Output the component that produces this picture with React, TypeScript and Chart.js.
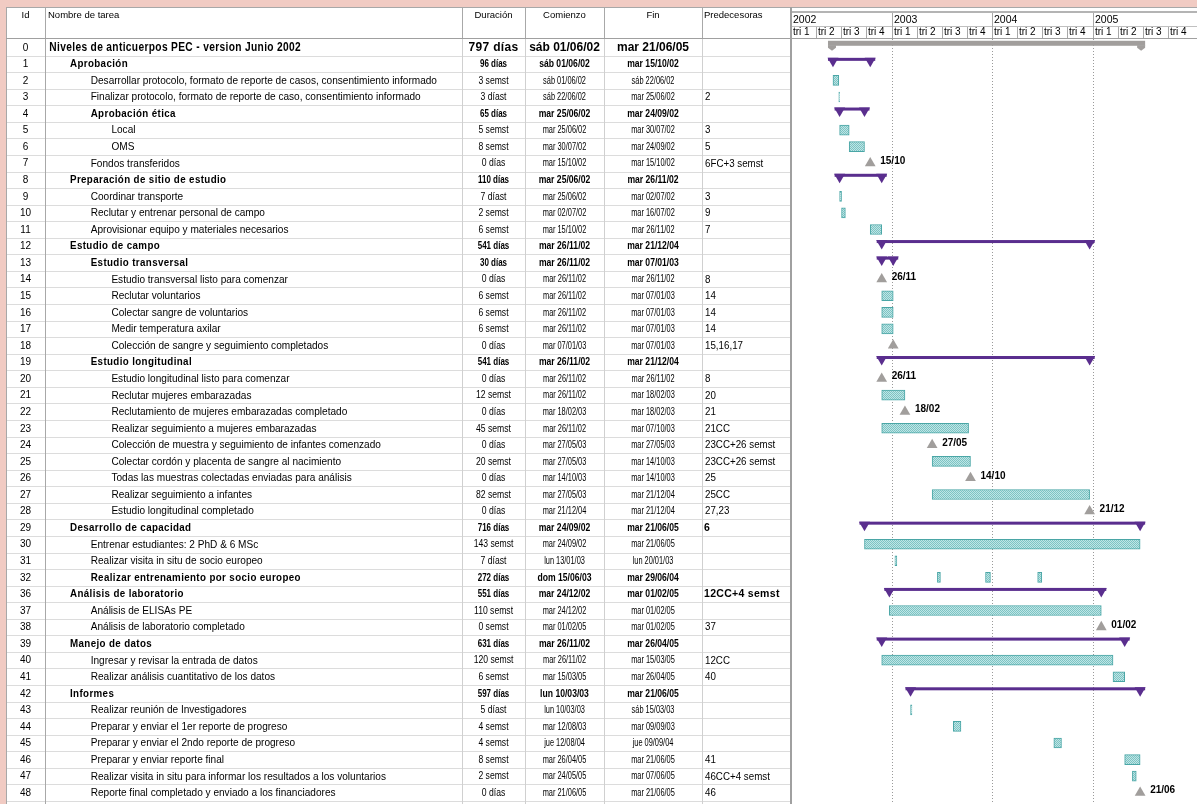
import React, { useEffect, useRef } from 'react';
import { Chart, registerables } from 'chart.js';
Chart.register(...registerables);

// ---------------- data ----------------
const ids = ['0','1','2','3','4','5','6','7','8','9','10','11','12','13','14','15','16','17','18','19','20','21','22','23','24','25','26','27','28','29','30','31','32','36','37','38','39','40','41','42','43','44','45','46','47','48'];

const names = [
  'Niveles de anticuerpos PEC - version Junio 2002',
  'Aprobación',
  'Desarrollar protocolo, formato de reporte de casos, consentimiento informado',
  'Finalizar protocolo, formato de reporte de caso, consentimiento informado',
  'Aprobación ética',
  'Local',
  'OMS',
  'Fondos transferidos',
  'Preparación de sitio de estudio',
  'Coordinar transporte',
  'Reclutar y entrenar personal de campo',
  'Aprovisionar equipo y materiales necesarios',
  'Estudio de campo',
  'Estudio transversal',
  'Estudio transversal listo para comenzar',
  'Reclutar voluntarios',
  'Colectar sangre de voluntarios',
  'Medir temperatura axilar',
  'Colección de sangre y seguimiento completados',
  'Estudio longitudinal',
  'Estudio longitudinal listo para comenzar',
  'Reclutar mujeres embarazadas',
  'Reclutamiento de mujeres embarazadas completado',
  'Realizar seguimiento a mujeres embarazadas',
  'Colección de muestra y seguimiento de infantes comenzado',
  'Colectar cordón y placenta de sangre al nacimiento',
  'Todas las muestras colectadas enviadas para análisis',
  'Realizar seguimiento a infantes',
  'Estudio longitudinal completado',
  'Desarrollo de capacidad',
  'Entrenar estudiantes: 2 PhD & 6 MSc',
  'Realizar visita in situ de socio europeo',
  'Realizar entrenamiento por socio europeo',
  'Análisis de laboratorio',
  'Análisis de ELISAs PE',
  'Análisis de laboratorio completado',
  'Manejo de datos',
  'Ingresar y revisar la entrada de datos',
  'Realizar análisis cuantitativo de los datos',
  'Informes',
  'Realizar reunión de Investigadores',
  'Preparar y enviar el 1er reporte de progreso',
  'Preparar y enviar el 2ndo reporte de progreso',
  'Preparar y enviar reporte final',
  'Realizar visita in situ para informar los resultados a los voluntarios',
  'Reporte final completado y enviado a los financiadores',
];

const levels = [0,1,2,2,2,3,3,2,1,2,2,2,1,2,3,3,3,3,3,2,3,3,3,3,3,3,3,3,3,1,2,2,2,1,2,2,1,2,2,1,2,2,2,2,2,2];

// root = project summary, sum = summary task, roll = summary with rolled-up bars, task, ms = milestone
const kinds = ['root','sum','task','task','sum','task','task','ms','sum','task','task','task','sum','sum','ms','task','task','task','ms','sum','ms','task','ms','task','ms','task','ms','task','ms','sum','task','task','roll','sum','task','ms','sum','task','task','sum','task','task','task','task','task','ms'];

const durations = ['797 días','96 días','3 semst','3 díast','65 días','5 semst','8 semst','0 días','110 días','7 díast','2 semst','6 semst','541 días','30 días','0 días','6 semst','6 semst','6 semst','0 días','541 días','0 días','12 semst','0 días','45 semst','0 días','20 semst','0 días','82 semst','0 días','716 días','143 semst','7 díast','272 días','551 días','110 semst','0 semst','631 días','120 semst','6 semst','597 días','5 díast','4 semst','4 semst','8 semst','2 semst','0 días'];

const starts = ['sáb 01/06/02','sáb 01/06/02','sáb 01/06/02','sáb 22/06/02','mar 25/06/02','mar 25/06/02','mar 30/07/02','mar 15/10/02','mar 25/06/02','mar 25/06/02','mar 02/07/02','mar 15/10/02','mar 26/11/02','mar 26/11/02','mar 26/11/02','mar 26/11/02','mar 26/11/02','mar 26/11/02','mar 07/01/03','mar 26/11/02','mar 26/11/02','mar 26/11/02','mar 18/02/03','mar 26/11/02','mar 27/05/03','mar 27/05/03','mar 14/10/03','mar 27/05/03','mar 21/12/04','mar 24/09/02','mar 24/09/02','lun 13/01/03','dom 15/06/03','mar 24/12/02','mar 24/12/02','mar 01/02/05','mar 26/11/02','mar 26/11/02','mar 15/03/05','lun 10/03/03','lun 10/03/03','mar 12/08/03','jue 12/08/04','mar 26/04/05','mar 24/05/05','mar 21/06/05'];

const ends = ['mar 21/06/05','mar 15/10/02','sáb 22/06/02','mar 25/06/02','mar 24/09/02','mar 30/07/02','mar 24/09/02','mar 15/10/02','mar 26/11/02','mar 02/07/02','mar 16/07/02','mar 26/11/02','mar 21/12/04','mar 07/01/03','mar 26/11/02','mar 07/01/03','mar 07/01/03','mar 07/01/03','mar 07/01/03','mar 21/12/04','mar 26/11/02','mar 18/02/03','mar 18/02/03','mar 07/10/03','mar 27/05/03','mar 14/10/03','mar 14/10/03','mar 21/12/04','mar 21/12/04','mar 21/06/05','mar 21/06/05','lun 20/01/03','mar 29/06/04','mar 01/02/05','mar 01/02/05','mar 01/02/05','mar 26/04/05','mar 15/03/05','mar 26/04/05','mar 21/06/05','sáb 15/03/03','mar 09/09/03','jue 09/09/04','mar 21/06/05','mar 07/06/05','mar 21/06/05'];

const preds = ['','','','2','','3','5','6FC+3 semst','','3','9','7','','','8','14','14','14','15,16,17','','8','20','21','21CC','23CC+26 semst','23CC+26 semst','25','25CC','27,23','6','','','','12CC+4 semst','','37','','12CC','40','','','','','41','46CC+4 semst','46'];

// milestones drawn without a date label
const msNoLabel = ['18'];

// rolled-up sub-task bars shown on row 32
const rollupRow = '32';
const rollupStarts = ['15/06/03','08/12/03','14/06/04'];
const rollupEnds = ['26/06/03','26/12/03','29/06/04'];

const headerLabels = ['Id','Nombre de tarea','Duración','Comienzo','Fin','Predecesoras'];
const years = [2002, 2003, 2004, 2005];
const quarterLabels = ['tri 1','tri 2','tri 3','tri 4'];

// ---------------- layout ----------------
const W = 1197, H = 804;
const TOP = 39, ROW_H = 16.7, LEFT = 791, PX_PER_YEAR = 102.1;
const X_MIN = 2002;
const X_MAX = X_MIN + (W - LEFT) / PX_PER_YEAR;
const Y_MAX = -0.5 + (H - TOP) / ROW_H;
const PINK = '#f1cbc3';
const PURPLE = '#5a2e8e';
const FONT = '"Liberation Sans", Arial, sans-serif';

function toVal(s: string): number {
  const m = s.slice(-8);
  const d = parseInt(m.slice(0, 2), 10);
  const mo = parseInt(m.slice(3, 5), 10) - 1;
  const y = 2000 + parseInt(m.slice(6, 8), 10);
  const q = Math.floor(mo / 3);
  const qs = Date.UTC(y, q * 3, 1), qe = Date.UTC(y, q * 3 + 3, 1);
  const t = Date.UTC(y, mo, d);
  return y + (q + (t - qs) / (qe - qs)) / 4;
}

function txt(ctx: CanvasRenderingContext2D, s: string, x: number, y: number, font: string, align: string, sx = 1, spacing = 0) {
  ctx.save();
  ctx.font = font;
  (ctx as any).letterSpacing = spacing + 'px';
  const w = ctx.measureText(s).width * sx;
  const x0 = align === 'center' ? x - w / 2 : align === 'right' ? x - w : x;
  ctx.translate(x0, y);
  ctx.scale(sx, 1);
  ctx.textAlign = 'left';
  ctx.textBaseline = 'middle';
  ctx.fillStyle = '#000';
  ctx.fillText(s, 0, 0);
  ctx.restore();
}

export default function App() {
  const ref = useRef<HTMLCanvasElement>(null);
  useEffect(() => {
    document.body.style.margin = '0';
    document.documentElement.style.overflow = 'hidden';
    const canvas = ref.current!;
    const c2 = canvas.getContext('2d')!;
    const pc = document.createElement('canvas');
    pc.width = 2; pc.height = 2;
    const p = pc.getContext('2d')!;
    p.fillStyle = '#c0e5e5'; p.fillRect(0, 0, 2, 2);
    p.fillStyle = '#7cc4c4'; p.fillRect(0, 0, 1, 1); p.fillRect(1, 1, 1, 1);
    const pattern = c2.createPattern(pc, 'repeat');

    const taskData: any[] = [];
    const sumData: any[] = [];
    const msData: any[] = [];
    ids.forEach((id, i) => {
      const k = kinds[i];
      if (k === 'task') taskData.push({ x: [toVal(starts[i]), toVal(ends[i])], y: i });
      else if (k === 'sum' || k === 'root') sumData.push({ x: [toVal(starts[i]), toVal(ends[i])], y: i, root: k === 'root' });
      else if (k === 'ms') msData.push({ x: toVal(starts[i]), y: i, label: msNoLabel.includes(id) ? '' : starts[i].slice(-8, -3) });
      else if (k === 'roll') rollupStarts.forEach((s, j) => taskData.push({ x: [toVal(s), toVal(rollupEnds[j])], y: ids.indexOf(rollupRow) }));
    });

    const colLines = [45, 462, 525, 604, 702];

    const tablePlugin = {
      id: 'table',
      beforeDraw(chart: any) {
        const ctx: CanvasRenderingContext2D = chart.ctx;
        const ys = chart.scales.y, xs = chart.scales.x;
        ctx.save();
        ctx.fillStyle = '#fff'; ctx.fillRect(0, 0, W, H);
        ctx.fillStyle = PINK; ctx.fillRect(0, 0, W, 7); ctx.fillRect(0, 0, 6, H);
        // table outer lines
        ctx.fillStyle = '#a8a8a8';
        ctx.fillRect(6, 7, W - 6, 1);
        ctx.fillRect(6, 7, 1, H);
        // row lines
        ctx.fillStyle = '#dcdcdc';
        for (let i = 0; i < ids.length; i++) {
          const yb = Math.round(ys.getPixelForValue(i + 0.5));
          ctx.fillRect(7, yb, LEFT - 8, 1);
        }
        // column lines
        colLines.forEach((x, j) => {
          ctx.fillStyle = '#a8a8a8';
          ctx.fillRect(x, 7, 1, TOP - 7);
          ctx.fillStyle = j === 0 ? '#a8a8a8' : '#d0d0d0';
          ctx.fillRect(x, TOP, 1, H - TOP);
        });
        // header bottom
        ctx.fillStyle = '#a0a0a0';
        ctx.fillRect(6, TOP - 1, W - 6, 1);
        // gantt header
        ctx.fillStyle = '#b4b4b4';
        ctx.fillRect(LEFT, 11, W - LEFT, 2);
        ctx.fillStyle = '#c0c0c0';
        ctx.fillRect(LEFT, 26, W - LEFT, 1);
        years.forEach((yv) => {
          const x = Math.round(xs.getPixelForValue(yv));
          ctx.fillStyle = '#a8a8a8';
          ctx.fillRect(x, 13, 1, TOP - 14);
          txt(ctx, String(yv), x + 2, 20, '10.5px ' + FONT, 'left');
          quarterLabels.forEach((ql, q) => {
            const qx = Math.round(xs.getPixelForValue(yv + q / 4));
            ctx.fillStyle = '#a8a8a8';
            ctx.fillRect(qx, 27, 1, TOP - 28);
            txt(ctx, ql, qx + 2, 32.5, '10px ' + FONT, 'left');
          });
        });
        // dotted year grid
        ctx.strokeStyle = '#9a9a9a';
        ctx.lineWidth = 1;
        ctx.setLineDash([1, 2]);
        years.slice(1).forEach((yv) => {
          const x = Math.round(xs.getPixelForValue(yv)) + 0.5;
          ctx.beginPath(); ctx.moveTo(x, TOP); ctx.lineTo(x, H); ctx.stroke();
        });
        ctx.setLineDash([]);
        // divider
        ctx.fillStyle = '#a0a0a0';
        ctx.fillRect(LEFT - 1, 7, 2, H);
        // header text
        const hf = '9.5px ' + FONT;
        txt(ctx, headerLabels[0], 25.5, 15, hf, 'center');
        txt(ctx, headerLabels[1], 48, 15, hf, 'left');
        txt(ctx, headerLabels[2], 493.5, 15, hf, 'center');
        txt(ctx, headerLabels[3], 564.5, 15, hf, 'center');
        txt(ctx, headerLabels[4], 653, 15, hf, 'center');
        txt(ctx, headerLabels[5], 704, 15, hf, 'left');
        // rows
        ids.forEach((id, i) => {
          const y = ys.getPixelForValue(i) + 0.5;
          const k = kinds[i];
          const bold = k === 'sum' || k === 'root' || k === 'roll';
          const root = k === 'root';
          const rf = '10.5px ' + FONT;
          const bf = 'bold 10.5px ' + FONT;
          const rs = '10px ' + FONT;
          const bs = 'bold 10px ' + FONT;
          const big = 'bold 12px ' + FONT;
          txt(ctx, id, 25.5, y, '10px ' + FONT, 'center');
          const nx = 49.3 + levels[i] * 20.7;
          if (root) {
            txt(ctx, names[i], nx, y, big, 'left', 0.85, 0.4);
            txt(ctx, durations[i], 493.5, y, big, 'center', 1, 0.3);
            txt(ctx, starts[i], 564.5, y, big, 'center', 1);
            txt(ctx, ends[i], 653, y, big, 'center', 1);
          } else if (bold) {
            txt(ctx, names[i], nx, y, bf, 'left', 0.93, 0.4);
            txt(ctx, durations[i], 493.5, y, bs, 'center', 0.8);
            txt(ctx, starts[i], 564.5, y, bs, 'center', 0.86);
            txt(ctx, ends[i], 653, y, bs, 'center', 0.86);
            if (preds[i]) txt(ctx, preds[i], 704, y, bf, 'left', 1, 0.3);
          } else {
            txt(ctx, names[i], nx, y, rf, 'left', 0.96);
            txt(ctx, durations[i], 493.5, y, rs, 'center', 0.86);
            txt(ctx, starts[i], 564.5, y, rs, 'center', 0.74);
            txt(ctx, ends[i], 653, y, rs, 'center', 0.74);
            if (preds[i]) txt(ctx, preds[i], 705, y, rf, 'left', 0.93);
          }
        });
        ctx.restore();
      },
      afterDatasetsDraw(chart: any) {
        const ctx: CanvasRenderingContext2D = chart.ctx;
        ctx.save();
        const sm = chart.getDatasetMeta(1);
        sm.data.forEach((el: any, k: number) => {
          const d = sumData[k];
          const x0 = Math.min(el.x, el.base), x1 = Math.max(el.x, el.base);
          const y = el.y;
          if (d.root) {
            ctx.fillStyle = '#a19e9c';
            ctx.fillRect(x0 - 5, y - 6.5, x1 - x0 + 10, 5);
            [x0 - 1, x1 + 1].forEach((cx) => {
              ctx.beginPath();
              ctx.moveTo(cx - 4, y - 2);
              ctx.lineTo(cx + 4, y - 2);
              ctx.lineTo(cx + 4, y + 0.5);
              ctx.lineTo(cx, y + 3.5);
              ctx.lineTo(cx - 4, y + 0.5);
              ctx.closePath();
              ctx.fill();
            });
          } else {
            ctx.fillStyle = PURPLE;
            ctx.fillRect(x0 - 5, y - 6, x1 - x0 + 10, 3);
            [x0, x1].forEach((cx) => {
              ctx.beginPath();
              ctx.moveTo(cx - 5.5, y - 6);
              ctx.lineTo(cx + 5.5, y - 6);
              ctx.lineTo(cx, y + 3.5);
              ctx.closePath();
              ctx.fill();
            });
          }
        });
        const mm = chart.getDatasetMeta(2);
        mm.data.forEach((el: any, k: number) => {
          const lab = msData[k].label;
          if (lab) txt(ctx, lab, el.x + 10, el.y - 2, 'bold 10px ' + FONT, 'left');
        });
        ctx.restore();
      },
    };

    const chart = new Chart(canvas, {
      type: 'bar',
      data: {
        datasets: [
          {
            type: 'bar', indexAxis: 'y', data: taskData, grouped: false, barThickness: 10,
            backgroundColor: pattern as any, borderColor: '#4aa6a6', borderWidth: 1, borderSkipped: false,
          } as any,
          {
            type: 'bar', indexAxis: 'y', data: sumData, grouped: false, barThickness: 3,
            backgroundColor: 'rgba(0,0,0,0)', borderWidth: 0,
          } as any,
          {
            type: 'scatter', data: msData, pointStyle: 'triangle', pointRadius: 6.2,
            backgroundColor: '#a19e9c', borderColor: '#a19e9c', borderWidth: 0,
          } as any,
        ],
      },
      options: {
        responsive: false,
        animation: false,
        devicePixelRatio: 1,
        events: [],
        layout: { padding: { left: LEFT, top: TOP, right: 0, bottom: 0 } },
        plugins: { legend: { display: false }, tooltip: { enabled: false } },
        scales: {
          x: { type: 'linear', min: X_MIN, max: X_MAX, display: false, offset: false, grid: { offset: false } },
          y: { type: 'linear', min: -0.5, max: Y_MAX, reverse: true, display: false, offset: false, grid: { offset: false } },
        },
      } as any,
      plugins: [tablePlugin],
    });
    return () => chart.destroy();
  }, []);
  return <canvas ref={ref} width={W} height={H} style={{ display: 'block' }} />;
}
